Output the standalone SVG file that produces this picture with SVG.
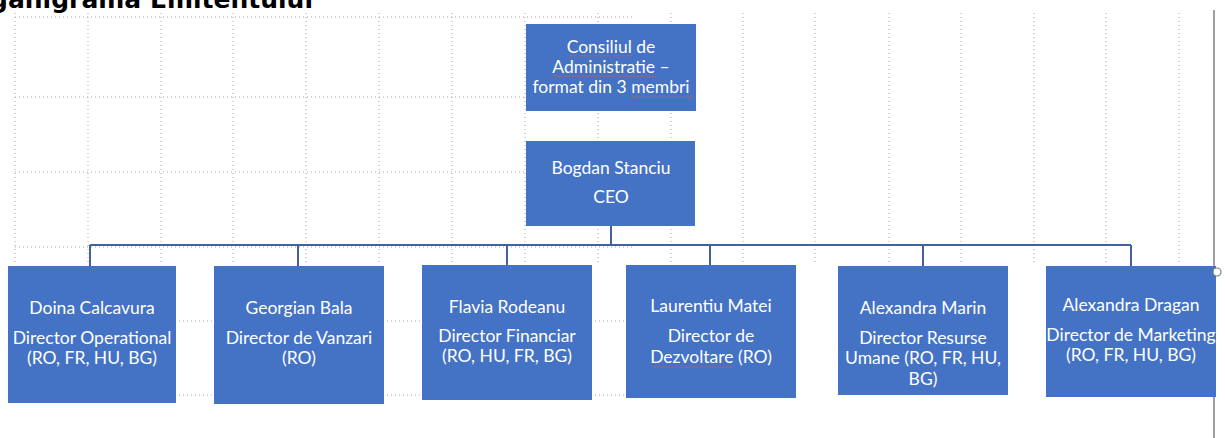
<svg xmlns="http://www.w3.org/2000/svg" width="1225" height="438" viewBox="0 0 1225 438">
<style>
.grid{stroke:#a8a8a8;stroke-width:1;stroke-dasharray:1 3;fill:none}
.box{fill:#4472C4}
.t{font-family:Lato,"Liberation Sans",sans-serif;font-size:17.5px;fill:#ffffff;text-anchor:middle}
.conn{stroke:#41629C;stroke-width:2;fill:none}
.title{font-family:"DejaVu Sans",sans-serif;font-weight:bold;font-size:25px;fill:#000}
</style>
<defs>
<pattern id="sq" patternUnits="userSpaceOnUse" width="4" height="3">
<path d="M0 2.5 L2 0.5 L4 2.5" stroke="#d9534f" stroke-width="0.9" fill="none"/>
</pattern>
</defs>
<rect width="1225" height="438" fill="#ffffff"/>
<g id="grid">
<path class="grid" d="M15 13V262M88 13V262M161 13V262M233 13V262M306 13V262M379 13V262M452 13V262M525 13V262M598 13V262M671 13V262M743 13V262M815 13V262M889 13V262M961 13V262M1034 13V262M1106 13V262M1179 13V262"/>
<path class="grid" d="M15 17H633M15 97H526M15 172H526M15 247H633M15 321H633M15 395H633"/>
</g>
<text class="title" x="313" y="8" text-anchor="end">Organigrama Emitentului</text>
<line x1="1214" y1="10" x2="1214" y2="438" stroke="#7f7f7f" stroke-width="1.5"/>
<g id="connectors">
<path class="conn" d="M611 226V245M90 245H1131M90 245V266M298 245V266M507 245V265M710 245V265M923 245V266M1131 245V266"/>
</g>
<g id="consiliu">
<rect class="box" x="526" y="24" width="170" height="87"/>
<text class="t" x="611" y="53">Consiliul de</text>
<text class="t" x="611" y="73">Administratie –</text>
<text class="t" x="611" y="93">format din 3 membri</text>
<rect x="568" y="55" width="64" height="3" fill="url(#sq)"/>
<rect x="553" y="75" width="104" height="3" fill="url(#sq)"/>
<rect x="630" y="95" width="63" height="3" fill="url(#sq)"/>
</g>
<g id="ceo">
<rect class="box" x="526" y="141" width="169" height="85"/>
<text class="t" x="611" y="174">Bogdan Stanciu</text>
<text class="t" x="611" y="203">CEO</text>
</g>
<g id="doina">
<rect class="box" x="8" y="266" width="168" height="137"/>
<text class="t" x="92" y="314">Doina Calcavura</text>
<text class="t" x="92" y="344">Director Operational</text>
<text class="t" x="92" y="364">(RO, FR, HU, BG)</text>
</g>
<g id="georgian">
<rect class="box" x="214" y="266" width="170" height="138"/>
<text class="t" x="299" y="314">Georgian Bala</text>
<text class="t" x="299" y="344">Director de Vanzari</text>
<text class="t" x="299" y="364">(RO)</text>
</g>
<g id="flavia">
<rect class="box" x="422" y="265" width="170" height="135"/>
<text class="t" x="507" y="313">Flavia Rodeanu</text>
<text class="t" x="507" y="342">Director Financiar</text>
<text class="t" x="507" y="362">(RO, HU, FR, BG)</text>
</g>
<g id="laurentiu">
<rect class="box" x="626" y="265" width="170" height="133"/>
<text class="t" x="711" y="312">Laurentiu Matei</text>
<text class="t" x="711" y="342">Director de</text>
<text class="t" x="711" y="363">Dezvoltare (RO)</text>
<rect x="652" y="365" width="81" height="3" fill="url(#sq)"/>
</g>
<g id="alexandra-marin">
<rect class="box" x="838" y="266" width="170" height="129"/>
<text class="t" x="923" y="314">Alexandra Marin</text>
<text class="t" x="923" y="344">Director Resurse</text>
<text class="t" x="923" y="364">Umane (RO, FR, HU,</text>
<text class="t" x="923" y="385">BG)</text>
</g>
<g id="alexandra-dragan">
<rect class="box" x="1046" y="266" width="170" height="131"/>
<text class="t" x="1131" y="311">Alexandra Dragan</text>
<text class="t" x="1131" y="341">Director de Marketing</text>
<text class="t" x="1131" y="361">(RO, FR, HU, BG)</text>
</g>
<circle cx="1217" cy="272" r="4" fill="#ffffff" stroke="#7f7f7f" stroke-width="1.2"/>
</svg>
